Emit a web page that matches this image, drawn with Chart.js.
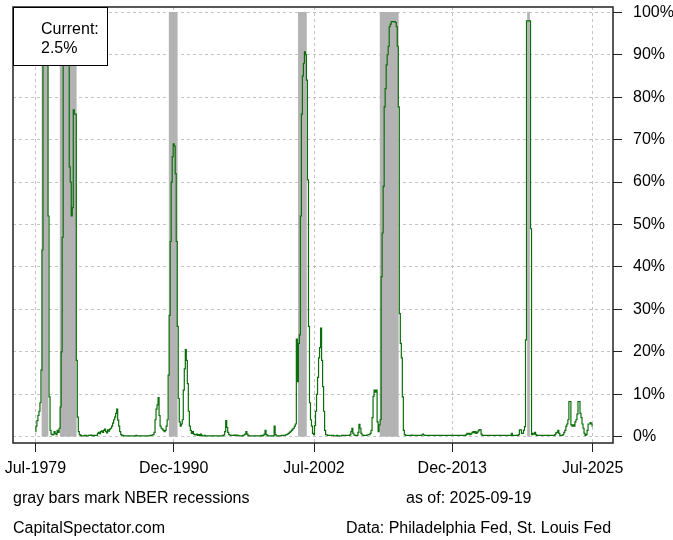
<!DOCTYPE html>
<html>
<head>
<meta charset="utf-8">
<script src="https://cdn.jsdelivr.net/npm/chart.js@4.4.1/dist/chart.umd.min.js"></script>
<style>
  html, body { margin: 0; padding: 0; background: #fff; }
</style>
</head>
<body>
<canvas id="chart" width="673" height="540"></canvas>
<script>
// Smoothed US recession probabilities (%), monthly, Jul-1979 .. Jul-2025
var firstYear = 1979, firstMonth = 7;
var recProb = [
  1.2, 2.5, 3.8, 5.0, 6.0, 8.0,                                   // 1979 Jul-Dec
  15.7, 44, 92, 99.5, 99.8, 99.5, 97, 52, 9.4, 1.5, 0.6, 0.4,     // 1980
  0.5, 1.2, 0.8, 0.5, 1.5, 1.0, 2.0, 7.0, 20, 47, 90, 99,         // 1981
  99.8, 99.6, 99, 97, 63.6, 60, 52, 54, 77, 76, 76, 18,           // 1982
  4.6, 1.2, 0.5, 0.3, 0.2, 0.2, 0.2, 0.3, 0.3, 0.2, 0.2, 0.3,     // 1983
  0.3, 0.4, 0.3, 0.3, 0.2, 0.3, 0.3, 0.3, 0.8, 1.0, 0.7, 1.2,     // 1984
  1.4, 1.0, 1.5, 1.8, 1.2, 0.9, 1.6, 1.3, 1.8, 2.0, 2.5, 3.2,     // 1985
  4.0, 4.6, 5.5, 6.5, 3.9, 2.5, 1.2, 0.5, 0.3, 0.3, 0.2, 0.2,     // 1986
  0.2, 0.2, 0.2, 0.2, 0.2, 0.2, 0.2, 0.2, 0.2, 0.2, 0.3, 0.2,     // 1987
  0.2, 0.2, 0.2, 0.2, 0.2, 0.2, 0.2, 0.2, 0.2, 0.2, 0.2, 0.2,     // 1988
  0.3, 0.3, 0.4, 0.5, 1.0, 4.0, 6.5, 7.5, 9.2, 5.0, 2.5, 2.0,     // 1989
  1.8, 1.5, 1.2, 1.5, 2.5, 4.0, 14.5, 28.6, 46, 60, 66, 69,       // 1990
  68.5, 62, 46, 26, 9, 3.5, 2.5, 3, 4, 11, 16, 20.5,              // 1991
  18, 12.5, 6, 2.5, 1.5, 0.8, 1.2, 0.6, 0.5, 0.4, 0.6, 0.3,       // 1992
  0.5, 0.3, 0.6, 0.3, 0.2, 0.2, 0.3, 0.2, 0.2, 0.2, 0.2, 0.2,     // 1993
  0.2, 0.2, 0.2, 0.2, 0.2, 0.2, 0.2, 0.2, 0.2, 0.2, 0.2, 0.2,     // 1994
  0.3, 0.4, 1.2, 3.8, 2.2, 1.0, 0.5, 0.4, 0.3, 0.3, 0.3, 0.4,     // 1995
  0.3, 0.4, 0.3, 0.3, 0.2, 0.2, 0.2, 0.2, 0.3, 0.4, 0.6, 1.2,     // 1996
  0.6, 0.3, 0.2, 0.2, 0.2, 0.2, 0.2, 0.2, 0.2, 0.2, 0.2, 0.2,     // 1997
  0.2, 0.2, 0.3, 0.2, 0.3, 0.6, 1.5, 0.5, 0.3, 0.2, 0.2, 0.2,     // 1998
  0.2, 0.2, 0.2, 2.5, 0.5, 0.2, 0.2, 0.2, 0.2, 0.2, 0.3, 0.3,     // 1999
  0.3, 0.3, 0.4, 0.5, 0.6, 0.8, 1.0, 1.2, 1.5, 1.8, 2.0, 2.5,     // 2000
  3, 23, 13, 22, 24, 52, 76, 85, 88, 90.7, 90, 84,                // 2001
  60.5, 26, 8, 4, 2.5, 0.8, 0.5, 2.6, 6, 10, 14, 18.6,            // 2002
  21, 25.6, 18, 11.8, 6, 1.5, 0.5, 0.4, 0.3, 0.3, 0.3, 0.3,       // 2003
  0.3, 0.3, 0.2, 0.2, 0.2, 0.3, 0.2, 0.2, 0.2, 0.2, 0.3, 0.3,     // 2004
  0.3, 0.3, 0.3, 0.3, 0.3, 0.3, 0.5, 1.2, 2.0, 0.8, 0.4, 0.3,     // 2005
  0.3, 0.3, 1.0, 2.9, 2.0, 0.8, 0.4, 0.3, 0.3, 0.3, 0.3, 0.4,     // 2006
  0.5, 0.5, 0.8, 1.5, 4.5, 9.5, 11, 10.5, 11, 3.5, 1.2, 2.8,      // 2007
  4, 37.7, 48, 59, 77.7, 82, 87.6, 90, 92, 96.6, 97.2, 97.8,      // 2008
  97.8, 97.8, 97.8, 97.6, 96.6, 92, 77.7, 29, 22, 18.6, 9.4, 1.5, // 2009
  0.5, 0.3, 0.3, 0.3, 0.3, 0.3, 0.3, 0.4, 0.3, 0.3, 0.3, 0.3,     // 2010
  0.3, 0.3, 0.3, 0.3, 0.3, 0.4, 0.6, 0.4, 0.3, 0.3, 0.3, 0.3,     // 2011
  0.3, 0.3, 0.3, 0.3, 0.3, 0.3, 0.3, 0.3, 0.3, 0.3, 0.3, 0.3,     // 2012
  0.3, 0.3, 0.3, 0.3, 0.3, 0.3, 0.3, 0.3, 0.3, 0.3, 0.3, 0.3,     // 2013
  0.3, 0.3, 0.3, 0.3, 0.3, 0.3, 0.3, 0.3, 0.3, 0.3, 0.3, 0.3,     // 2014
  0.3, 0.5, 0.8, 0.6, 0.8, 0.5, 0.7, 1.0, 1.2, 0.9, 1.2, 0.8,     // 2015
  1.0, 1.4, 1.7, 1.6, 0.6, 0.3, 0.3, 0.3, 0.3, 0.3, 0.3, 0.3,     // 2016
  0.3, 0.3, 0.3, 0.3, 0.3, 0.3, 0.3, 0.3, 0.3, 0.3, 0.3, 0.3,     // 2017
  0.3, 0.3, 0.3, 0.3, 0.3, 0.3, 0.3, 0.3, 0.3, 0.3, 0.8, 0.3,     // 2018
  0.3, 0.3, 0.3, 0.3, 0.3, 0.5, 1.6, 1.6, 0.8, 0.8, 1.5, 2.4,     // 2019
  22.8, 98, 98, 98, 98, 49, 0.5, 0.8, 0.6, 1.0, 0.5, 0.3,         // 2020
  0.3, 0.3, 0.3, 0.3, 0.3, 0.3, 0.3, 0.3, 0.3, 0.3, 0.3, 0.3,     // 2021
  0.3, 0.3, 0.3, 0.3, 0.3, 0.5, 0.9, 1.0, 1.5, 0.8, 0.3, 0.3,     // 2022
  0.3, 0.5, 1.0, 1.5, 2.5, 3.0, 4.0, 8.3, 8.3, 2.8, 2.5, 2.8,     // 2023
  2.5, 3.5, 4.0, 5.3, 8.3, 8.3, 5.5, 4.5, 3.0, 2.0, 0.8, 0.3,     // 2024
  0.5, 1.5, 3.0, 3.0, 3.3, 3.0, 2.5                               // 2025 Jan-Jul
];

// NBER recessions (months flagged as recession)
var recessionStarts = ['1980-02', '1981-08', '1990-08', '2001-04', '2008-01', '2020-03'];
var recessionEnds   = ['1980-07', '1982-11', '1991-03', '2001-11', '2009-06', '2020-04'];

var tickLabels = ['Jul-1979', 'Dec-1990', 'Jul-2002', 'Dec-2013', 'Jul-2025'];
var tickDates  = ['1979-07', '1990-12', '2002-07', '2013-12', '2025-07'];
var yTicks = [0, 10, 20, 30, 40, 50, 60, 70, 80, 90, 100];

var footLeft  = ['gray bars mark NBER recessions', 'CapitalSpectator.com'];
var footRight = ['as of: 2025-09-19', 'Data: Philadelphia Fed, St. Louis Fed'];

function monthIndex(s) {
  var p = s.split('-');
  return (parseInt(p[0], 10) - firstYear) * 12 + (parseInt(p[1], 10) - firstMonth);
}

var tickMonths = tickDates.map(monthIndex);
var linePoints = recProb.map(function(v, i) { return { x: i, y: v }; });
var barPoints = [];
recessionStarts.forEach(function(s, k) {
  for (var m = monthIndex(s); m <= monthIndex(recessionEnds[k]); m++) {
    barPoints.push({ x: m, y: 100 });
  }
});
var currentValue = recProb[recProb.length - 1];

var FONT = '"Liberation Sans", Arial, sans-serif';
Chart.defaults.font.family = FONT;
Chart.defaults.font.size = 16;
Chart.defaults.color = '#000';

// box round the plot, the "Current" label and the notes under the chart
var extras = {
  id: 'extras',
  afterDatasetsDraw: function(chart) {
    var ctx = chart.ctx, a = chart.chartArea;
    ctx.save();
    ctx.strokeStyle = '#222';
    ctx.lineWidth = 1.5;
    ctx.strokeRect(a.left, a.top, a.right - a.left, a.bottom - a.top);

    ctx.fillStyle = '#fff';
    ctx.fillRect(a.left, a.top, 94, 58);
    ctx.lineWidth = 1;
    ctx.strokeStyle = '#000';
    ctx.strokeRect(a.left + 0.5, a.top + 0.5, 94, 58);
    ctx.fillStyle = '#000';
    ctx.font = '16px ' + FONT;
    ctx.textBaseline = 'alphabetic';
    ctx.fillText('Current:', a.left + 28, a.top + 27);
    ctx.fillText(currentValue.toFixed(1) + '%', a.left + 28, a.top + 45.5);

    ctx.textBaseline = 'middle';
    ctx.fillText(footLeft[0], 13, 499);
    ctx.fillText(footLeft[1], 13, 529);
    ctx.fillText(footRight[0], 406, 499);
    ctx.fillText(footRight[1], 346, 529);
    ctx.restore();
  }
};

new Chart(document.getElementById('chart'), {
  type: 'line',
  data: {
    datasets: [{
      type: 'line',
      data: linePoints,
      borderColor: '#0a6e0a',
      borderWidth: 1.2,
      pointRadius: 0,
      stepped: 'middle',
      fill: false,
      order: 0
    }, {
      type: 'bar',
      data: barPoints,
      backgroundColor: '#b3b3b3',
      borderWidth: 0,
      barPercentage: 1,
      categoryPercentage: 1,
      order: 1
    }]
  },
  options: {
    responsive: false,
    animation: false,
    devicePixelRatio: 1,
    events: [],
    layout: { padding: { left: 13, top: 7, right: 0, bottom: 0 } },
    plugins: { legend: { display: false }, tooltip: { enabled: false } },
    scales: {
      x: {
        type: 'linear',
        min: -22.2,
        max: 572.2,
        offset: false,
        afterBuildTicks: function(s) { s.ticks = tickMonths.map(function(m) { return { value: m }; }); },
        afterFit: function(s) { s.height = 97; s.paddingLeft = 0; s.paddingRight = 0; },
        grid: { color: '#c4c4c4', lineWidth: 1, offset: false, tickLength: 9, tickColor: '#222', tickWidth: 1 },
        border: { display: false, dash: [3, 3] },
        ticks: {
          autoSkip: false, maxRotation: 0, padding: 7,
          callback: function(v) { var i = tickMonths.indexOf(v); return i >= 0 ? tickLabels[i] : ''; }
        }
      },
      y: {
        position: 'right',
        min: -1.48,
        max: 101.25,
        afterBuildTicks: function(s) { s.ticks = yTicks.map(function(v) { return { value: v }; }); },
        afterFit: function(s) { s.width = 60; s.paddingTop = 0; s.paddingBottom = 0; },
        grid: { color: '#c4c4c4', lineWidth: 1, tickLength: 9, tickColor: '#222', tickWidth: 1 },
        border: { display: false, dash: [3, 3] },
        ticks: { padding: 11, callback: function(v) { return v + '%'; } }
      }
    }
  },
  plugins: [extras]
});
</script>
</body>
</html>
